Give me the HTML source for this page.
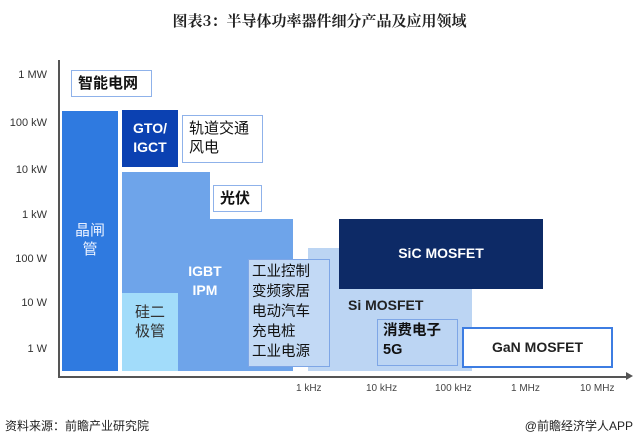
<!DOCTYPE html>
<html><head><meta charset="utf-8"><style>
body{margin:0;width:639px;height:446px;background:#fff;position:relative;overflow:hidden;font-family:"Liberation Sans","Noto Sans CJK SC",sans-serif}
.a{position:absolute;box-sizing:border-box}
.t{position:absolute;white-space:nowrap}
.yl{position:absolute;right:592px;font-size:11px;color:#333;text-align:right}
.xl{position:absolute;top:383px;font-size:10px;color:#444}
.wb{background:#fff;border:1.5px solid #8fb2ea;font-size:15px;color:#111;line-height:19px;padding:3px 6px}
</style></head><body>
<div class="t" style="left:0;width:639px;top:10px;text-align:center;font-size:15px;font-weight:bold;font-family:'Noto Serif CJK SC','Noto Sans CJK SC',serif;color:#222">图表3：半导体功率器件细分产品及应用领域</div>

<div class="a" style="left:58px;top:60px;width:1.5px;height:318px;background:#555"></div>
<div class="a" style="left:58px;top:376px;width:570px;height:1.5px;background:#555"></div>
<div class="t" style="left:626px;top:372px;width:0;height:0;border-left:7px solid #555;border-top:4px solid transparent;border-bottom:4px solid transparent"></div>

<div class="yl" style="top:69px">1 MW</div>
<div class="yl" style="top:117px">100 kW</div>
<div class="yl" style="top:164px">10 kW</div>
<div class="yl" style="top:209px">1 kW</div>
<div class="yl" style="top:253px">100 W</div>
<div class="yl" style="top:297px">10 W</div>
<div class="yl" style="top:343px">1 W</div>

<div class="xl" style="left:296px">1 kHz</div>
<div class="xl" style="left:366px">10 kHz</div>
<div class="xl" style="left:435px">100 kHz</div>
<div class="xl" style="left:511px">1 MHz</div>
<div class="xl" style="left:580px">10 MHz</div>

<!-- Si MOSFET -->
<div class="a" style="left:308px;top:248px;width:164px;height:123px;background:#bcd5f3"></div>
<!-- IGBT -->
<div class="a" style="left:122px;top:172px;width:88px;height:199px;background:#6ea4ea"></div>
<div class="a" style="left:208px;top:219px;width:85px;height:152px;background:#6ea4ea"></div>
<div class="a" style="left:122px;top:293px;width:56px;height:78px;background:#a2dcfa"></div>
<div class="t" style="left:122px;top:303px;width:56px;text-align:center;font-size:15px;line-height:19px;color:#333">硅二<br>极管</div>
<div class="t" style="left:183px;top:262px;width:44px;text-align:center;font-size:14px;font-weight:bold;line-height:19px;color:#fff">IGBT<br>IPM</div>

<div class="a" style="left:62px;top:111px;width:56px;height:260px;background:#2f7ae0"></div>
<div class="t" style="left:62px;top:221px;width:56px;text-align:center;font-size:15px;line-height:19px;color:#e8f0ff">晶闸<br>管</div>

<div class="a" style="left:122px;top:110px;width:56px;height:57px;background:#0b41b2"></div>
<div class="t" style="left:122px;top:119px;width:56px;text-align:center;font-size:14px;font-weight:bold;line-height:19px;color:#fff">GTO/<br>IGCT</div>

<div class="a wb" style="left:71px;top:70px;width:81px;height:27px;font-weight:bold;line-height:19px">智能电网</div>
<div class="a wb" style="left:182px;top:115px;width:81px;height:48px">轨道交通<br>风电</div>
<div class="a wb" style="left:213px;top:185px;width:49px;height:27px;font-weight:bold">光伏</div>

<div class="a" style="left:248px;top:259px;width:82px;height:108px;background:#c2d9f5;border:1.5px solid #7ea6e6;font-size:14.5px;line-height:20px;color:#111;padding:2px 0 0 3px">工业控制<br>变频家居<br>电动汽车<br>充电桩<br>工业电源</div>

<div class="a" style="left:339px;top:219px;width:204px;height:70px;background:#0d2a66"></div>
<div class="t" style="left:339px;top:245px;width:204px;text-align:center;font-size:14px;font-weight:bold;color:#fff">SiC MOSFET</div>
<div class="t" style="left:348px;top:297px;font-size:14px;font-weight:bold;color:#222">Si MOSFET</div>

<div class="a" style="left:377px;top:319px;width:81px;height:47px;border:1.5px solid #7ea6e6;font-size:14.5px;line-height:19px;color:#111;padding:2px 0 0 5px;font-weight:bold">消费电子<br>5G</div>

<div class="a" style="left:462px;top:327px;width:151px;height:41px;background:#fff;border:2px solid #3d7de2"></div>
<div class="t" style="left:462px;top:339px;width:151px;text-align:center;font-size:14px;font-weight:bold;color:#222">GaN MOSFET</div>

<div class="t" style="left:5px;top:417px;font-size:12px;color:#222">资料来源：前瞻产业研究院</div>
<div class="t" style="right:6px;top:417px;font-size:12px;color:#222">@前瞻经济学人APP</div>
</body></html>
